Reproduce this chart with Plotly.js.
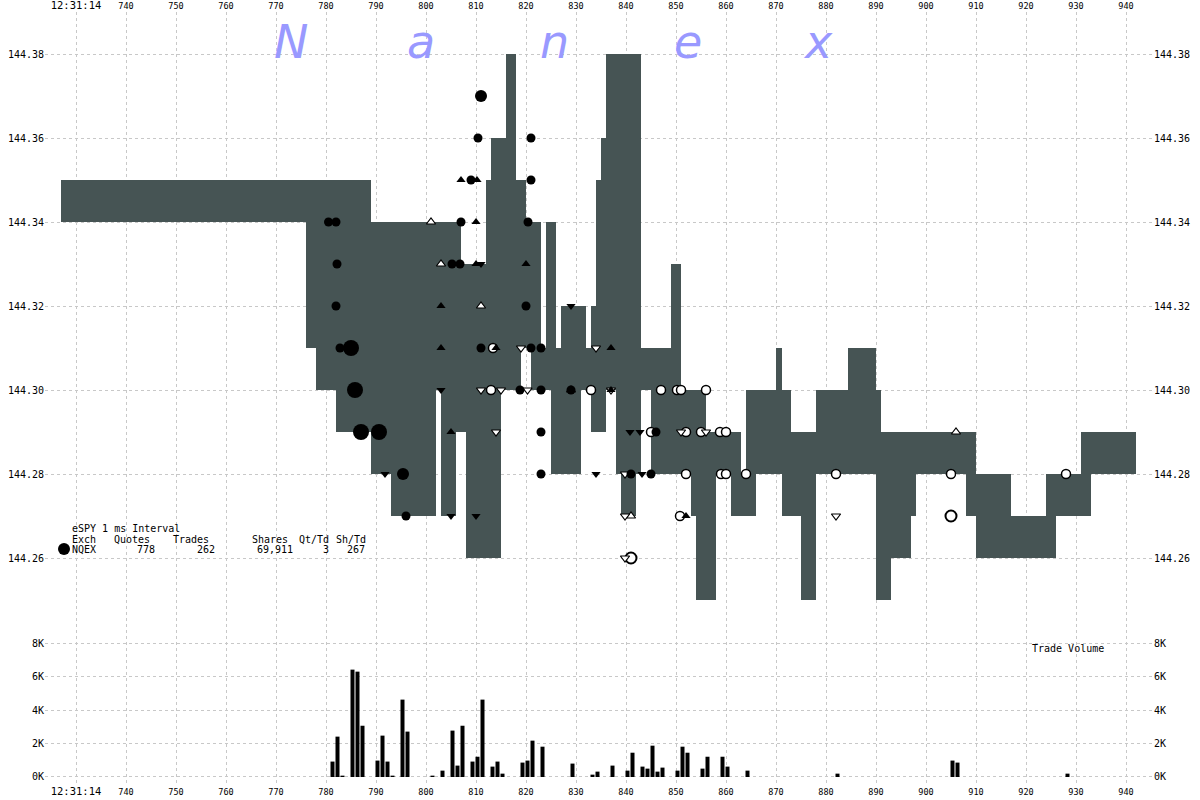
<!DOCTYPE html>
<html>
<head>
<meta charset="utf-8">
<script src="https://cdn.plot.ly/plotly-3.0.1.min.js"></script>
<style>html,body{margin:0;padding:0;background:#fff;}#chart{width:1200px;height:800px;}</style>
</head>
<body>
<div id="chart"></div>
<script>
// ---------- DATA ----------
// Quote spread columns (ms start, ms end, low price, high price)
const segStart = [727,776,778,782,789,793,802,803,806,807,808,812,813,815,816,818,819,820,821,823,824,825,826,827,831,832,833,834,835,836,838,839,842,843,845,849,851,853,854,856,858,861,863,864,866,870,871.2,873,875,878,884.4,890,891,893,897,898,908,910,917,924,926,931,933];
const segEnd   = [776,778,782,789,793,802,803,806,807,808,812,813,815,816,818,819,820,821,823,824,825,826,827,831,832,833,834,835,836,838,839,842,843,845,849,851,853,854,856,858,861,863,864,866,870,871.2,873,875,878,884.4,890,891,893,897,898,908,910,917,924,926,931,933,942];
const segLow   = [144.34,144.31,144.30,144.29,144.28,144.27,144.30,144.27,144.29,144.29,144.26,144.26,144.26,144.30,144.30,144.30,144.31,144.31,144.30,144.30,144.30,144.28,144.28,144.28,144.30,144.30,144.29,144.29,144.29,144.30,144.28,144.27,144.28,144.30,144.28,144.28,144.28,144.27,144.25,144.25,144.28,144.27,144.27,144.27,144.28,144.28,144.27,144.27,144.25,144.28,144.28,144.25,144.25,144.26,144.27,144.28,144.27,144.26,144.26,144.26,144.27,144.27,144.28];
const segHigh  = [144.35,144.35,144.35,144.35,144.34,144.34,144.34,144.34,144.34,144.33,144.33,144.35,144.36,144.36,144.38,144.35,144.35,144.34,144.34,144.31,144.34,144.34,144.31,144.32,144.32,144.31,144.32,144.35,144.36,144.38,144.38,144.38,144.38,144.31,144.31,144.33,144.30,144.30,144.30,144.29,144.29,144.29,144.28,144.30,144.30,144.31,144.30,144.29,144.29,144.30,144.31,144.30,144.29,144.29,144.29,144.29,144.29,144.28,144.27,144.28,144.28,144.29,144.29];

// Trades (ms, price)
const blackX = [809,821,810.4,821,780.5,782,807,820.4,782.2,805.2,806.8,782,820,782.8,811,821,823,818.8,823,829,823,823,841,845,846,796];
const blackY = [144.35,144.35,144.36,144.36,144.34,144.34,144.34,144.34,144.33,144.33,144.33,144.32,144.32,144.31,144.31,144.31,144.31,144.30,144.30,144.30,144.29,144.28,144.28,144.28,144.29,144.27];
const blackMidX = [811,795.4];
const blackMidY = [144.37,144.28];
const blackBigX = [785,785.8,787,790.6];
const blackBigY = [144.31,144.30,144.29,144.29];
const whiteX = [813.4,813,833,847,850.2,851,856,845,852,855,858.8,860,852,859,860,864,882,850.8,928,905];
const whiteY = [144.31,144.30,144.30,144.30,144.30,144.30,144.30,144.29,144.29,144.29,144.29,144.29,144.28,144.28,144.28,144.28,144.28,144.27,144.28,144.28];
const whiteBigX = [841,905];
const whiteBigY = [144.26,144.27];
const bUpX = [807,810.2,810,810,820,803,803,837,805,852,837,814];
const bUpY = [144.35,144.35,144.34,144.33,144.33,144.32,144.31,144.31,144.29,144.27,144.30,144.31];
const bDnX = [811,829,803,791.8,805,810,834,840.8,842.8,843.2];
const bDnY = [144.33,144.32,144.30,144.28,144.27,144.27,144.28,144.29,144.29,144.28];
const wUpX = [801,803,811,841,906,829];
const wUpY = [144.34,144.33,144.32,144.27,144.29,144.30];
const wDnX = [834,819,811,814,815,820.3,837,851,856,839.8,839.8,839.8,882];
const wDnY = [144.31,144.31,144.30,144.29,144.30,144.30,144.30,144.29,144.29,144.28,144.27,144.26,144.27];

// Trade volume per ms
const volMs = [781,782,783,785,786,787,790,791,792,793,795,796,801,803,805,806,807,809,810,811,813,814,815,819,820,821,823,829,833,834,837,840,841,843,844,845,846,847,850,851,852,855,856,859,860,864,882,905,906,928];
const volShares = [920,2410,80,6410,6290,3060,980,2470,920,80,4620,2710,80,380,2770,680,3060,920,1210,4620,620,920,200,860,980,2170,1810,800,140,320,680,380,1450,620,500,1870,320,560,380,1810,1450,500,1210,1210,620,380,200,980,860,200];

// Tick labels
const xTickVals = [730,740,750,760,770,780,790,800,810,820,830,840,850,860,870,880,890,900,910,920,930,940];
const xTickText = ['<span style="font-size:10.5px">12:31:14</span>','740','750','760','770','780','790','800','810','820','830','840','850','860','870','880','890','900','910','920','930','940'];
const priceTicks = [144.26,144.28,144.30,144.32,144.34,144.36,144.38];
const volTicks = [0,2000,4000,6000,8000];
const volTickText = ['0K','2K','4K','6K','8K'];

// Legend text
const legendTitle = 'eSPY 1 ms Interval';
const legendHeads = ['Exch','Quotes','Trades','Shares','Qt/Td','Sh/Td'];
const legendVals = ['NQEX','778','262','69,911','3','267'];
const brandLetters = ['N','a','n','e','x'];

// ---------- LAYOUT HELPERS ----------
const L = 45, R = 47, T = 12, B = 15;
const PW = 1200 - L - R, PH = 800 - T - B;
const fx = px => (px - L) / PW;
const fy = py => (800 - B - py) / PH;
const splitPx = 600;
const mainDom = [fy(splitPx), 1];
const volDom = [0, fy(splitPx)];

const gridCol = '#c8c8c8';
const gridDash = '3px,3px';
const mono = 'DejaVu Sans Mono';

const segW = segStart.map((s, i) => segEnd[i] - s);
const segH = segHigh.map((h, i) => h - segLow[i]);

const traces = [
  {type:'bar', x:segStart, y:segH, base:segLow, width:segW, offset:0,
   marker:{color:'#465454', line:{width:0}}, xaxis:'x', yaxis:'y', hoverinfo:'skip'},
  {type:'bar', x:volMs, y:volShares, width:0.8, offset:-0.1,
   marker:{color:'#000', line:{width:0}}, xaxis:'x2', yaxis:'y2', hoverinfo:'skip'},
  {type:'scatter', mode:'markers', x:whiteX, y:whiteY, xaxis:'x', yaxis:'y',
   marker:{symbol:'circle', size:9, color:'#fff', line:{color:'#000', width:1.5}}},
  {type:'scatter', mode:'markers', x:whiteBigX, y:whiteBigY, xaxis:'x', yaxis:'y',
   marker:{symbol:'circle', size:11, color:'#fff', line:{color:'#000', width:2}}},
  {type:'scatter', mode:'markers', x:wUpX, y:wUpY, xaxis:'x', yaxis:'y',
   marker:{symbol:'triangle-up', size:8, color:'#fff', line:{color:'#000', width:1.2}}},
  {type:'scatter', mode:'markers', x:wDnX, y:wDnY, xaxis:'x', yaxis:'y',
   marker:{symbol:'triangle-down', size:8, color:'#fff', line:{color:'#000', width:1.2}}},
  {type:'scatter', mode:'markers', x:bUpX, y:bUpY, xaxis:'x', yaxis:'y',
   marker:{symbol:'triangle-up', size:8, color:'#000', line:{width:0}}},
  {type:'scatter', mode:'markers', x:bDnX, y:bDnY, xaxis:'x', yaxis:'y',
   marker:{symbol:'triangle-down', size:8, color:'#000', line:{width:0}}},
  {type:'scatter', mode:'markers', x:blackX, y:blackY, xaxis:'x', yaxis:'y',
   marker:{symbol:'circle', size:9, color:'#000', line:{width:0}}},
  {type:'scatter', mode:'markers', x:blackMidX, y:blackMidY, xaxis:'x', yaxis:'y',
   marker:{symbol:'circle', size:12, color:'#000', line:{width:0}}},
  {type:'scatter', mode:'markers', x:blackBigX, y:blackBigY, xaxis:'x', yaxis:'y',
   marker:{symbol:'circle', size:16, color:'#000', line:{width:0}}},
  // anchors for the right-hand axes
  {type:'scatter', mode:'markers', x:[xTickVals[0]], y:[priceTicks[0]], xaxis:'x', yaxis:'y3', marker:{opacity:0}, hoverinfo:'skip'},
  {type:'scatter', mode:'markers', x:[xTickVals[0]], y:[volTicks[0]], xaxis:'x2', yaxis:'y4', marker:{opacity:0}, hoverinfo:'skip'}
];

const xRange = [723.8, 945.4];
const baseX = {range:xRange, tickmode:'array', tickvals:xTickVals, ticktext:xTickText,
  showgrid:true, gridcolor:gridCol, griddash:gridDash, gridwidth:1, zeroline:false, showline:false,
  ticks:'', tickfont:{family:mono, size:8.5, color:'#000'}, automargin:false, fixedrange:true};
const priceText = priceTicks.map(v => v.toFixed(2));
const baseYP = {range:[144.25,144.39], domain:mainDom, tickmode:'array', tickvals:priceTicks, ticktext:priceText,
  zeroline:false, showline:false, ticks:'', tickfont:{family:mono, size:10, color:'#000'}, automargin:false, fixedrange:true};
const baseYV = {range:[-478,10567], domain:volDom, tickmode:'array', tickvals:volTicks, ticktext:volTickText,
  zeroline:false, showline:false, ticks:'', tickfont:{family:mono, size:10, color:'#000'}, automargin:false, fixedrange:true};

const annotations = [];
const brandPx = [291, 421, 554, 688, 818];
brandLetters.forEach((c, i) => annotations.push({xref:'paper', yref:'paper', x:fx(brandPx[i]), y:fy(42),
  xanchor:'center', yanchor:'middle', showarrow:false, text:c,
  font:{family:'DejaVu Sans', size:46, color:'#9999ff', style:'italic'}}));
const txt = (s, px, py, anchor) => annotations.push({xref:'paper', yref:'paper', x:fx(px), y:fy(py),
  xanchor:anchor, yanchor:'middle', showarrow:false, text:s, borderpad:0,
  font:{family:mono, size:10, color:'#000'}});
txt(legendTitle, 71, 528, 'left');
const headPx = [71, 113, 172, 251, 298, 335];
legendHeads.forEach((s, i) => txt(s, headPx[i], 539, 'left'));
txt(legendVals[0], 71, 549, 'left');
const valPx = [null, 156, 216, 294, 330, 366];
for (let i = 1; i < legendVals.length; i++) txt(legendVals[i], valPx[i], 549, 'right');
txt('Trade Volume', 1031, 648, 'left');

const layout = {
  width:1200, height:800, paper_bgcolor:'#fff', plot_bgcolor:'#fff',
  margin:{l:L, r:R, t:T, b:B, pad:0}, showlegend:false, barmode:'overlay',
  font:{family:mono, size:10, color:'#000'},
  xaxis:Object.assign({}, baseX, {anchor:'y', side:'top', domain:[0,1]}),
  xaxis2:Object.assign({}, baseX, {anchor:'y2', side:'bottom', domain:[0,1]}),
  yaxis:Object.assign({}, baseYP, {anchor:'x', side:'left', showgrid:true, gridcolor:gridCol, griddash:gridDash}),
  yaxis3:Object.assign({}, baseYP, {anchor:'x', overlaying:'y', side:'right', showgrid:false}),
  yaxis2:Object.assign({}, baseYV, {anchor:'x2', side:'left', showgrid:true, gridcolor:gridCol, griddash:gridDash}),
  yaxis4:Object.assign({}, baseYV, {anchor:'x2', overlaying:'y2', side:'right', showgrid:false}),
  annotations:annotations,
  shapes:[{type:'circle', xref:'paper', yref:'paper', x0:fx(58), x1:fx(70), y0:fy(555), y1:fy(543),
    fillcolor:'#000', line:{width:0}}]
};

Plotly.newPlot('chart', traces, layout, {staticPlot:true, displayModeBar:false});
</script>
</body>
</html>
